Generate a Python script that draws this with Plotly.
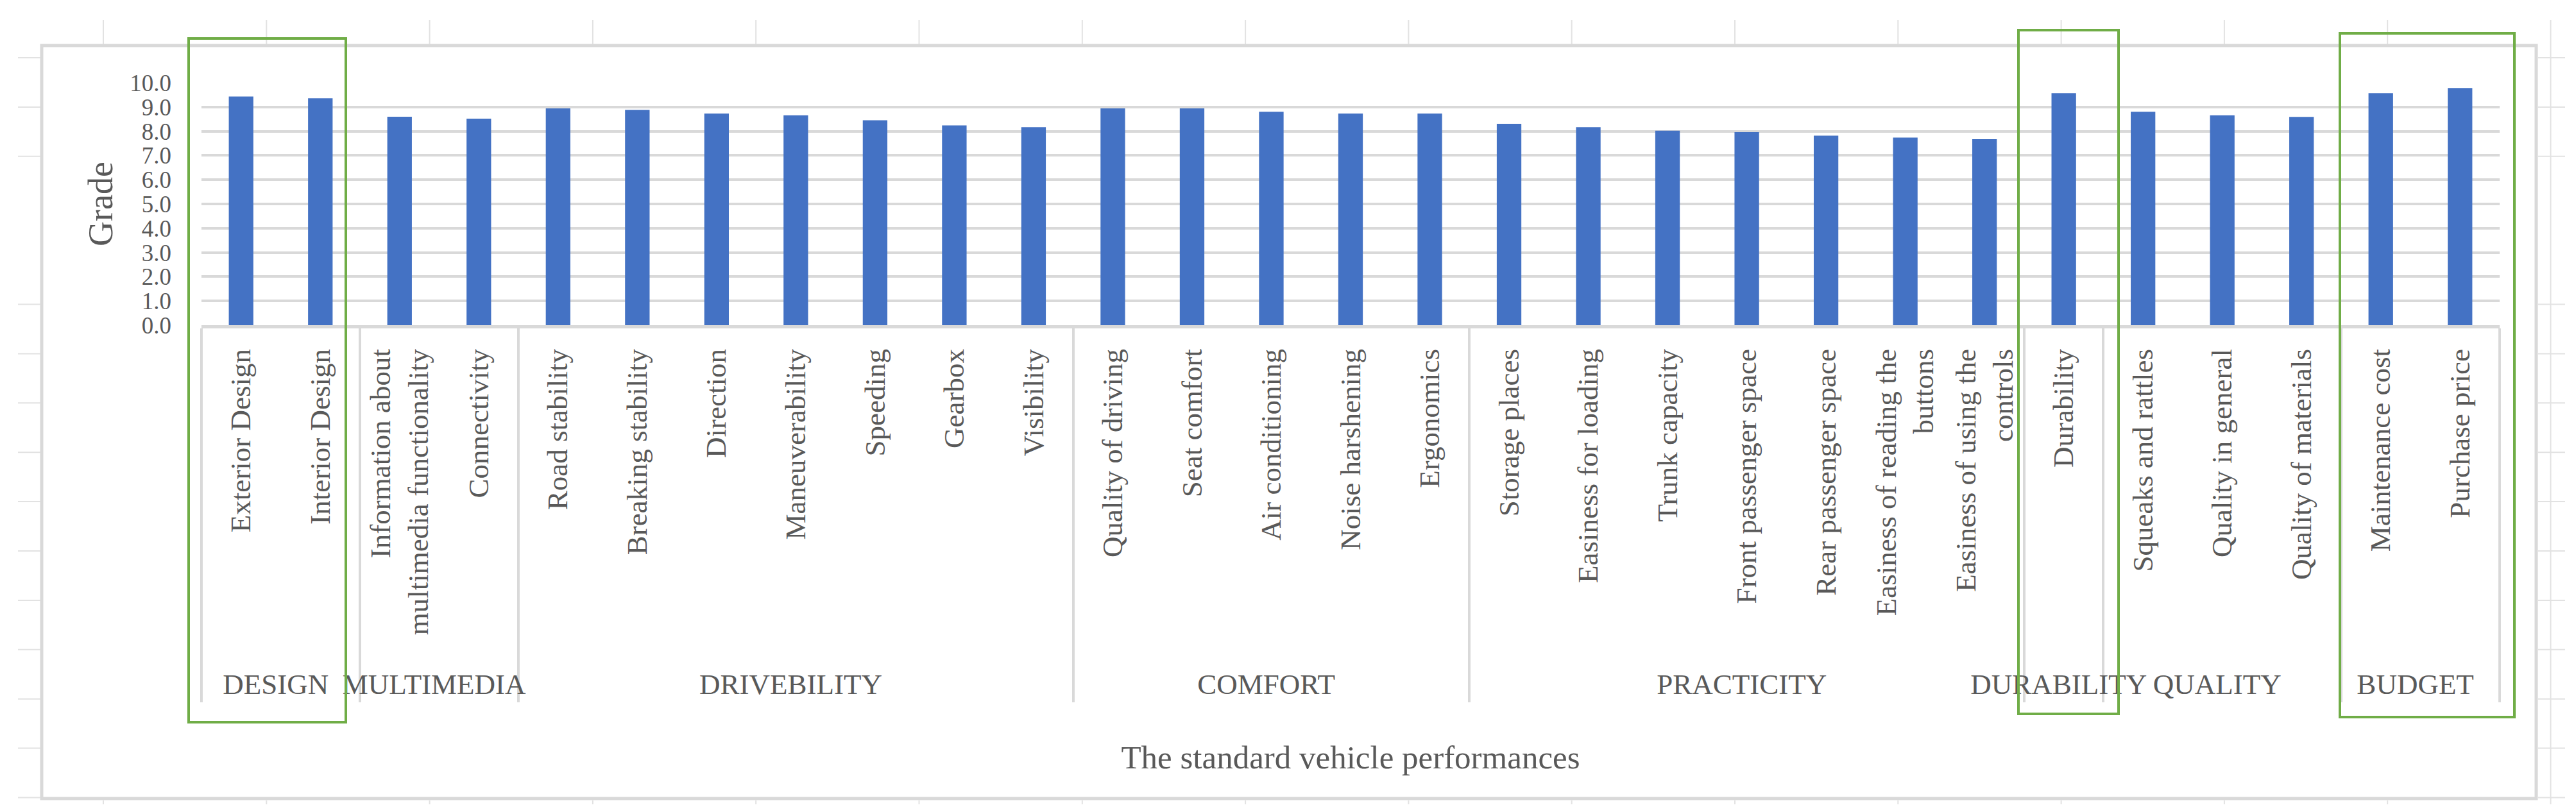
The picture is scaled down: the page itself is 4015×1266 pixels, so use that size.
import plotly.graph_objects as go

# two-level category axis: group, criterion
groups = [
    'DESIGN', 'DESIGN',
    'MULTIMEDIA', 'MULTIMEDIA',
    'DRIVEBILITY', 'DRIVEBILITY', 'DRIVEBILITY', 'DRIVEBILITY', 'DRIVEBILITY', 'DRIVEBILITY', 'DRIVEBILITY',
    'COMFORT', 'COMFORT', 'COMFORT', 'COMFORT', 'COMFORT',
    'PRACTICITY', 'PRACTICITY', 'PRACTICITY', 'PRACTICITY', 'PRACTICITY', 'PRACTICITY', 'PRACTICITY',
    'DURABILITY',
    'QUALITY', 'QUALITY', 'QUALITY',
    'BUDGET', 'BUDGET',
]
# the leading no-break spaces on the longest label only lengthen its box,
# which pushes the group labels down a little like in the original
criteria = [
    'Exterior Design', 'Interior Design',
    'Information about<br>\u00a0\u00a0multimedia functionality', 'Connectivity',
    'Road stability', 'Breaking stability', 'Direction', 'Maneuverability', 'Speeding', 'Gearbox', 'Visibility',
    'Quality of driving', 'Seat comfort', 'Air conditioning', 'Noise harshening', 'Ergonomics',
    'Storage places', 'Easiness for loading', 'Trunk capacity', 'Front passenger space', 'Rear passenger space',
    'Easiness of reading the<br>buttons', 'Easiness of using the<br>controls',
    'Durability',
    'Squeaks and rattles', 'Quality in general', 'Quality of materials',
    'Maintenance cost', 'Purchase price',
]
grades = [
    9.43, 9.36,
    8.60, 8.52,
    8.94, 8.88, 8.73, 8.66, 8.45, 8.24, 8.17,
    8.94, 8.94, 8.80, 8.73, 8.73,
    8.31, 8.17, 8.02, 7.96, 7.82, 7.74, 7.67,
    9.57,
    8.80, 8.66, 8.59,
    9.57, 9.78,
]

W, H = 4015, 1266
L, R, T, B = 306, 3888, 121, 499          # plot area in pixels
GRID = '#D9D9D9'
SHEET = '#E2E2E2'
GREEN = '#70AD47'
TEXT = '#595959'


def px(x):
    return (x - L) / (R - L)


def py(y):
    return (B - y) / (B - T)


fig = go.Figure()

fig.add_trace(
    go.Bar(
        x=[groups, criteria],
        y=grades,
        marker=dict(color='#4472C4', line=dict(width=0)),
        hoverinfo='x+y',
    )
)

shapes = []

# spreadsheet cell lines around the chart
for k in range(16):
    cx = 153 + 254.3 * k
    if cx < 3945:
        shapes.append(dict(type='line', xref='paper', yref='paper',
                           x0=px(cx), x1=px(cx), y0=py(23), y1=py(61),
                           line=dict(color=SHEET, width=2), layer='below'))
        shapes.append(dict(type='line', xref='paper', yref='paper',
                           x0=px(cx), x1=px(cx), y0=py(1240), y1=py(1246),
                           line=dict(color=SHEET, width=2), layer='below'))
    else:
        shapes.append(dict(type='line', xref='paper', yref='paper',
                           x0=px(cx), x1=px(cx), y0=py(23), y1=py(1246),
                           line=dict(color=SHEET, width=2), layer='below'))
for k in range(16):
    ry = 82 + 76.9 * k
    if k in (3, 4):
        continue
    shapes.append(dict(type='line', xref='paper', yref='paper',
                       x0=px(20), x1=px(55), y0=py(ry), y1=py(ry),
                       line=dict(color=SHEET, width=2), layer='below'))
    shapes.append(dict(type='line', xref='paper', yref='paper',
                       x0=px(3948), x1=px(3990), y0=py(ry), y1=py(ry),
                       line=dict(color=SHEET, width=2), layer='below'))

# chart area border
shapes.append(dict(type='rect', xref='paper', yref='paper',
                   x0=px(57), x1=px(3945), y0=py(63), y1=py(1237),
                   line=dict(color=GRID, width=5), layer='below'))

# green highlight boxes (DESIGN, DURABILITY, BUDGET)
for x0, x1, y0, y1 in [(286, 531, 52, 1118), (3138, 3294, 39, 1105), (3639, 3911, 44, 1110)]:
    shapes.append(dict(type='rect', xref='paper', yref='paper',
                       x0=px(x0), x1=px(x1), y0=py(y0), y1=py(y1),
                       line=dict(color=GREEN, width=4)))

fig.update_layout(
    width=W,
    height=H,
    margin=dict(l=L, r=W - R, t=T, b=H - B, autoexpand=False),
    paper_bgcolor='white',
    plot_bgcolor='white',
    showlegend=False,
    bargap=0.69,
    font=dict(family='Liberation Serif', color=TEXT),
    shapes=shapes,
    xaxis=dict(
        type='multicategory',
        tickangle=-90,
        tickfont=dict(family='Liberation Serif', size=45, color=TEXT),
        ticks='',
        ticklabelstandoff=14,
        showline=True,
        linecolor=GRID,
        linewidth=5,
        showgrid=False,
        showdividers=True,
        dividercolor=GRID,
        dividerwidth=4,
        automargin=False,
        title=dict(
            text='The standard vehicle performances',
            font=dict(family='Liberation Serif', size=51, color=TEXT),
            standoff=73,
        ),
    ),
    yaxis=dict(
        range=[0, 10],
        dtick=1,
        tickformat='.1f',
        tickfont=dict(family='Liberation Serif', size=37, color=TEXT),
        ticklabelstandoff=46,
        showgrid=True,
        gridcolor=GRID,
        gridwidth=4,
        zeroline=False,
        showline=False,
        automargin=False,
        title=dict(
            text='Grade',
            font=dict(family='Liberation Serif', size=54, color=TEXT),
            standoff=9,
        ),
    ),
)

fig.write_html('out.html')
